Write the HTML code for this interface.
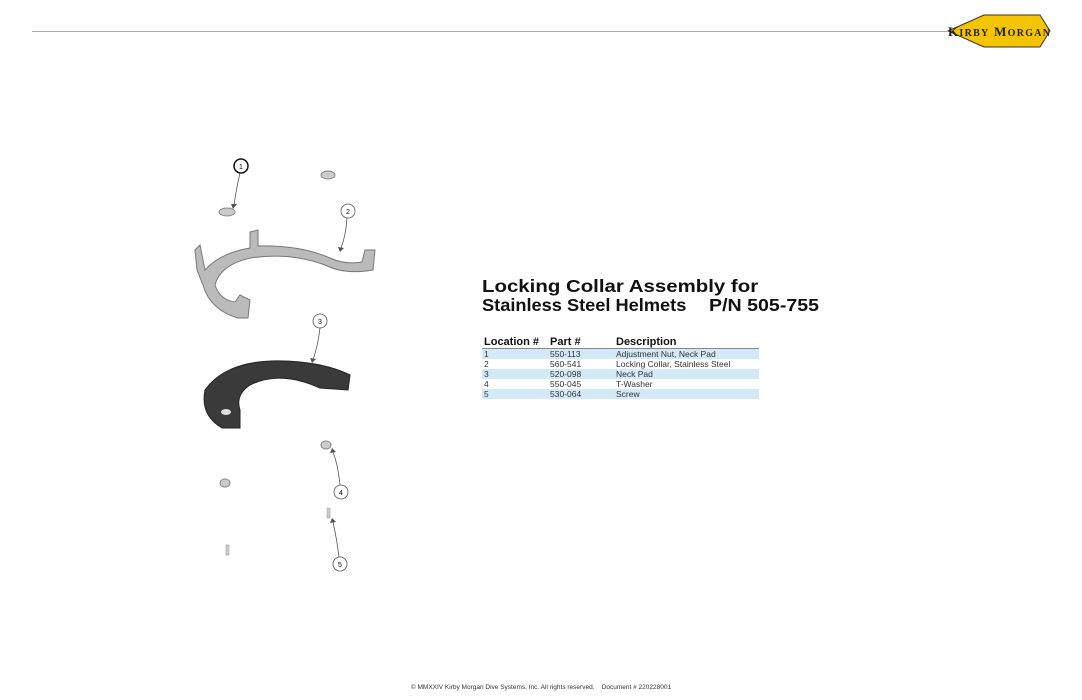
<!DOCTYPE html>
<html><head><style>
body{margin:0;width:1082px;height:700px;background:#fff;position:relative;overflow:hidden;font-family:"Liberation Sans",sans-serif}
.t{position:absolute;font-weight:bold;font-size:17.5px;color:#111;transform-origin:0 0;white-space:nowrap}
table{position:absolute;left:482px;top:336px;border-collapse:collapse;width:277px;font-size:8.5px;color:#333}
th{font-size:11px;text-align:left;font-weight:bold;color:#111;padding:0 2px;height:12px;line-height:12px;border-bottom:1px solid #888}
td{padding:0 2px;height:10px;line-height:10px}
tr.b td{background:#d4e9f7}
.f{position:absolute;top:684px;left:0;width:1082px;text-align:center;font-size:6.5px;color:#333}
</style></head><body>
<div style="position:absolute;left:32px;top:31px;width:915px;height:1px;background:#aaa"></div>
<svg style="position:absolute;left:944px;top:12px" width="110" height="38">
<polygon points="4,19 40,3 96,3 106,19 96,35 40,35" fill="#f5c400" stroke="#333" stroke-width="1"/>
<text x="4" y="24" font-family="Liberation Serif" font-weight="bold" font-size="13" fill="#222" textLength="102">K<tspan font-size="10">IRBY</tspan> M<tspan font-size="10">ORGAN</tspan></text>
</svg>
<div class="t" style="left:482px;top:276px;transform:scaleX(1.167)">Locking Collar Assembly for</div>
<div class="t" style="left:482px;top:295px;transform:scaleX(1.04)">Stainless Steel Helmets</div>
<div class="t" style="left:709px;top:295px;transform:scaleX(1.12)">P/N 505-755</div>
<table>
<tr><th style="width:62px">Location #</th><th style="width:62px">Part #</th><th>Description</th></tr>
<tr class="b"><td>1</td><td>550-113</td><td>Adjustment Nut, Neck Pad</td></tr>
<tr><td>2</td><td>560-541</td><td>Locking Collar, Stainless Steel</td></tr>
<tr class="b"><td>3</td><td>520-098</td><td>Neck Pad</td></tr>
<tr><td>4</td><td>550-045</td><td>T-Washer</td></tr>
<tr class="b"><td>5</td><td>530-064</td><td>Screw</td></tr>
</table>
<svg style="position:absolute;left:0;top:0" width="440" height="600" font-family="Liberation Sans" font-size="7">
<g fill="none" stroke="#555" stroke-width="0.8">
<circle cx="241" cy="166" r="7" stroke="#111" stroke-width="1.5"/>
<circle cx="348" cy="211" r="7"/><circle cx="320" cy="321" r="7"/>
<circle cx="341" cy="492" r="7"/><circle cx="340" cy="564" r="7"/>
<path d="M240,173 Q236,190 234,205"/><path d="M347,218 Q346,235 341,248"/>
<path d="M320,328 Q318,345 313,360"/><path d="M340,485 Q338,465 333,452"/><path d="M339,557 Q337,540 333,522"/>
</g>
<g fill="#555">
<polygon points="231,204 237,204 233,209"/><polygon points="338,247 344,248 340,252"/>
<polygon points="310,358 316,359 312,363"/><polygon points="330,453 336,452 332,448"/><polygon points="330,523 336,522 332,518"/>
</g>
<text x="241" y="169" text-anchor="middle">1</text><text x="348" y="214" text-anchor="middle">2</text>
<text x="320" y="324" text-anchor="middle">3</text><text x="341" y="495" text-anchor="middle">4</text><text x="340" y="567" text-anchor="middle">5</text>
<ellipse cx="227" cy="212" rx="8" ry="4" fill="#ccc" stroke="#888"/>
<ellipse cx="328" cy="175" rx="7" ry="4" fill="#ccc" stroke="#888"/>
<path d="M195,250 L200,245 L205,270 Q220,253 250,248 L250,232 L258,230 L258,246 Q300,245 330,258 Q345,265 362,262 L365,250 L375,250 L373,270 Q345,275 325,265 Q290,252 250,258 Q220,265 215,285 Q220,300 235,302 L240,295 L250,300 L248,318 L238,318 Q210,310 203,285 L197,270 Z" fill="#bbb" stroke="#777"/>
<path d="M205,390 Q230,355 300,362 Q330,365 350,375 L348,390 L320,388 Q280,370 250,385 Q235,395 240,410 L240,428 L222,428 Q200,415 205,390 Z" fill="#3a3a3a" stroke="#222"/>
<ellipse cx="226" cy="412" rx="5" ry="3" fill="#ddd"/>
<ellipse cx="326" cy="445" rx="5" ry="4" fill="#ccc" stroke="#888"/>
<ellipse cx="225" cy="483" rx="5" ry="4" fill="#ccc" stroke="#888"/>
<rect x="327" y="508" width="3" height="10" fill="#ccc" stroke="#999" stroke-width="0.5"/>
<rect x="226" y="545" width="3" height="10" fill="#ccc" stroke="#999" stroke-width="0.5"/>
</svg>
<div class="f">© MMXXIV Kirby Morgan Dive Systems, Inc. All rights reserved.&nbsp;&nbsp;&nbsp;&nbsp;Document # 220228001</div>
</body></html>
